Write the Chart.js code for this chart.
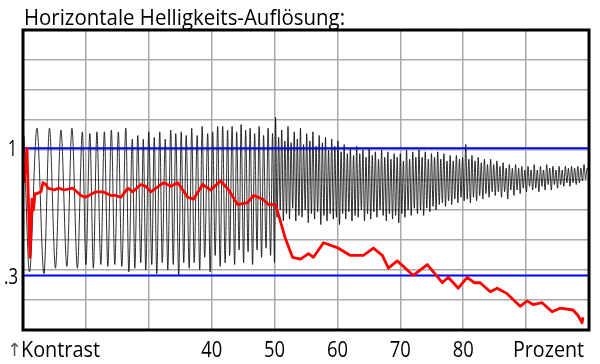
<!DOCTYPE html>
<html>
<head>
<meta charset="utf-8">
<script src="https://cdn.jsdelivr.net/npm/chart.js@4.4.1/dist/chart.umd.min.js"></script>
<style>
  html, body { margin: 0; padding: 0; background: #fff; }
</style>
</head>
<body>
<canvas id="chart" width="600" height="364"></canvas>
<script>
// Texte
const title = 'Horizontale Helligkeits-Auflösung:';
const xLabels = [40, 50, 60, 70, 80];
const xLeftLabel = 'Kontrast';
const xRightLabel = 'Prozent';
const yLabels = [1, 0.3];
const refLevels = [1, 0.3];

// Messsignal (schwarz): [Prozent, Kontrast], Spitzen und Täler
const wavePoints = [
  [10.16,1.07],[11.03,0.32],[12.22,1.11],[13.33,0.31],[14.21,1.11],[15.16,0.34],[16.03,1.10],[16.98,0.35],
  [17.78,1.11],[18.65,0.34],[19.44,1.09],[20.00,0.36],[20.63,1.08],[21.19,0.34],[21.75,1.09],[22.38,0.36],
  [22.94,1.09],[23.49,0.35],[24.05,1.10],[24.60,0.36],[25.16,1.09],[25.71,0.35],
  [26.35,1.11],[26.83,0.32],[27.38,1.05],[27.78,0.34],[28.25,1.07],[28.73,0.37],[29.13,1.05],[29.52,0.33],
  [30.00,1.09],[30.48,0.36],[30.87,1.06],[31.27,0.31],[31.75,1.09],[32.14,0.37],[32.62,1.05],[33.02,0.33],
  [33.49,1.10],[33.89,0.36],[34.29,1.08],[34.76,0.30],[35.16,1.09],[35.56,0.37],[35.95,1.07],[36.43,0.34],
  [36.83,1.11],[37.22,0.37],[37.70,1.07],[38.10,0.33],[38.49,1.12],[38.89,0.40],[39.37,1.08],[39.76,0.32],
  [40.16,1.09],[40.56,0.41],[40.95,1.12],[41.35,0.35],
  [41.75,1.12],[42.14,0.37],[42.54,1.10],[42.86,0.41],[43.25,1.12],[43.65,0.36],[43.97,1.09],[44.37,0.44],
  [44.68,1.13],[45.08,0.37],[45.40,1.10],[45.79,0.43],[46.11,1.11],[46.51,0.36],[46.83,1.08],[47.22,0.44],
  [47.54,1.12],[47.94,0.40],[48.25,1.07],[48.65,0.45],[48.97,1.11],[49.37,0.41],[49.68,1.08],[50.00,0.37],
  [50.16,1.17],[50.40,0.62],[50.65,1.06],[50.90,0.66],[51.14,1.10],[51.40,0.60],[51.64,1.04],[51.90,0.64],
  [52.14,1.12],[52.38,0.61],[52.63,1.03],[52.88,0.67],[53.13,1.09],[53.38,0.60],[53.62,1.05],[53.87,0.63],
  [54.12,1.11],[54.37,0.62],[54.62,1.02],[54.87,0.66],[55.11,1.08],[55.36,0.59],[55.61,1.04],[55.86,0.64],
  [56.10,1.09],[56.36,0.61],[56.60,1.01],[56.85,0.65],[57.10,1.07],[57.35,0.58],[57.60,1.03],[57.85,0.63],
  [58.10,1.06],[58.34,0.60],[58.59,0.99],[58.84,0.64],[59.09,1.05],[59.34,0.61],[59.58,1.01],[59.84,0.62],
  [60.08,1.04],[60.33,0.58],[60.58,0.98],[60.83,0.64],[61.07,1.02],[61.32,0.61],[61.57,0.97],[61.82,0.65],
  [62.06,1.00],[62.31,0.60],[62.56,0.96],[62.81,0.63],[63.06,1.01],[63.30,0.62],[63.55,0.97],[63.80,0.66],
  [64.05,0.99],[64.30,0.60],[64.54,0.95],[64.79,0.64],[65.04,1.00],[65.29,0.61],[65.54,0.96],[65.78,0.65],
  [66.03,0.98],[66.28,0.62],[66.53,0.94],[66.78,0.66],[67.02,0.99],[67.27,0.63],[67.52,0.95],[67.77,0.60],
  [68.02,0.98],[68.26,0.64],[68.51,0.94],[68.76,0.61],[69.01,0.97],[69.25,0.63],[69.50,0.95],[69.75,0.59],
  [70.00,0.97],[70.24,0.64],[70.49,0.93],[70.74,0.62],[70.99,0.99],[71.23,0.66],[71.48,0.94],[71.73,0.63],
  [71.98,0.98],[72.22,0.67],[72.47,0.95],[72.72,0.64],[72.97,0.99],[73.21,0.66],[73.46,0.95],[73.71,0.63],
  [73.96,0.98],[74.21,0.67],[74.45,0.94],[74.70,0.65],[74.95,0.97],[75.20,0.68],[75.44,0.95],[75.69,0.66],
  [75.94,0.98],[76.19,0.69],[76.43,0.94],[76.68,0.70],[76.93,0.97],[77.18,0.68],[77.42,0.93],[77.67,0.71],
  [77.92,0.96],[78.17,0.69],[78.41,0.93],[78.66,0.72],[78.91,0.96],[79.16,0.70],[79.40,0.94],[79.65,0.73],
  [79.90,0.95],[80.15,0.71],[80.40,1.02],[80.64,0.72],[80.89,0.94],[81.14,0.70],[81.39,0.96],[81.63,0.73],
  [81.88,0.93],[82.13,0.71],[82.38,0.95],[82.62,0.74],[82.87,0.92],[83.12,0.72],[83.37,0.94],[83.61,0.75],
  [83.86,0.91],[84.11,0.73],[84.36,0.94],[84.60,0.76],[84.85,0.91],[85.10,0.74],[85.35,0.93],[85.59,0.76],
  [85.84,0.90],[86.09,0.73],[86.34,0.92],[86.58,0.76],[86.83,0.89],[87.08,0.72],[87.33,0.91],[87.57,0.77],
  [87.82,0.89],[88.07,0.74],[88.32,0.91],[88.56,0.77],[88.81,0.89],[89.06,0.75],[89.31,0.90],[89.55,0.78],
  [89.80,0.88],[90.05,0.76],[90.30,0.90],[90.54,0.79],[90.79,0.88],[91.04,0.77],[91.29,0.91],[91.53,0.78],
  [91.78,0.88],[92.03,0.76],[92.28,0.90],[92.52,0.79],[92.77,0.88],[93.02,0.77],[93.27,0.91],[93.51,0.80],
  [93.76,0.89],[94.01,0.77],[94.26,0.90],[94.50,0.80],[94.75,0.88],[95.00,0.78],[95.25,0.90],[95.49,0.80],
  [95.74,0.88],[95.99,0.79],[96.24,0.90],[96.48,0.81],[96.73,0.89],[96.98,0.79],[97.23,0.90],[97.47,0.81],
  [97.72,0.89],[97.97,0.80],[98.22,0.90],[98.46,0.81],[98.71,0.89],[98.96,0.82],[99.21,0.91],[99.45,0.83],
  [99.70,0.89],[99.90,0.88]
];

// Kontrastverlauf (rot): [Prozent, Kontrast]
const redPoints = [
  [10.16,0.81],[10.63,1.00],[11.11,0.40],[11.43,0.72],[11.67,0.66],[11.90,0.75],[12.22,0.75],[12.86,0.76],
  [13.17,0.81],[13.65,0.80],[13.97,0.78],[14.92,0.77],[15.71,0.78],[16.51,0.77],[17.94,0.78],[19.21,0.74],
  [19.84,0.73],[20.48,0.74],[21.59,0.76],[22.70,0.76],[23.97,0.74],[24.76,0.74],[25.56,0.73],[26.67,0.78],
  [27.46,0.76],[28.73,0.80],[29.52,0.79],[30.32,0.76],[32.38,0.81],[33.49,0.79],[34.60,0.81],[36.19,0.73],
  [37.14,0.72],[38.57,0.80],[39.84,0.77],[41.43,0.82],[42.70,0.77],[44.13,0.69],[45.71,0.70],[46.67,0.74],
  [48.10,0.72],[49.05,0.69],[50.16,0.69],[51.75,0.50],[52.86,0.40],[54.13,0.39],[55.40,0.42],[56.19,0.40],
  [57.78,0.48],[60.16,0.45],[62.06,0.41],[64.13,0.41],[65.71,0.45],[67.14,0.41],[68.10,0.34],[69.52,0.38],
  [72.06,0.30],[74.29,0.36],[76.67,0.26],[77.62,0.29],[79.21,0.23],[80.63,0.29],[81.75,0.26],[82.70,0.26],
  [84.29,0.21],[85.40,0.23],[86.98,0.20],[89.05,0.13],[90.16,0.16],[91.11,0.14],[92.54,0.15],[94.13,0.10],
  [95.40,0.12],[97.46,0.11],[98.25,0.08],[98.89,0.04],[99.05,0.07]
];

const FONT = '"Open Sans", "Noto Sans", sans-serif';

// Text auf eine Breite stauchen (Original ist eine schmale Schrift)
function fitText(ctx, text, x, y, width, size, align) {
    ctx.font = size + 'px ' + FONT;
    const w = ctx.measureText(text).width;
    const s = Math.min(1, width / w);
    let left = x;
    if (align === 'center') left = x - w * s / 2;
    if (align === 'right') left = x - w * s;
    ctx.save();
    ctx.translate(left, y);
    ctx.scale(s, 1);
    ctx.textAlign = 'left';
    ctx.fillText(text, 0, 0);
    ctx.restore();
}

const framePlugin = {
    id: 'frame',
    afterDraw(chart) {
        const { ctx, chartArea: a, scales: { x, y } } = chart;
        ctx.save();
        ctx.strokeStyle = '#000';
        ctx.lineWidth = 3;
        ctx.strokeRect(a.left, a.top, a.right - a.left, a.bottom - a.top);

        ctx.fillStyle = '#000';
        ctx.textBaseline = 'alphabetic';
        fitText(ctx, title, a.left + 1, a.top - 5, 321, 21, 'left');

        // y-Beschriftung
        ctx.textBaseline = 'middle';
        fitText(ctx, String(yLabels[0]), a.left - 6, y.getPixelForValue(yLabels[0]) + 2, 9, 22, 'right');
        fitText(ctx, '.' + String(yLabels[1]).split('.')[1], a.left - 5, y.getPixelForValue(yLabels[1]) + 3, 14, 21, 'right');

        // x-Beschriftung
        ctx.textBaseline = 'alphabetic';
        const base = a.bottom + 27;
        xLabels.forEach(v => {
            fitText(ctx, String(v), x.getPixelForValue(v), base, 21, 22, 'center');
        });
        fitText(ctx, xRightLabel, a.right - 5, base, 71, 22, 'right');
        fitText(ctx, xLeftLabel, a.left - 2, base, 79, 22, 'left');
        ctx.fillStyle = '#555';
        ctx.font = '18px "DejaVu Sans", sans-serif';
        ctx.textAlign = 'left';
        ctx.fillText('\u2191', a.left - 16, base - 1);
        ctx.restore();
    }
};

const toXY = pts => pts.map(([x, y]) => ({ x, y }));

const datasets = [
    {
        label: 'Kontrast',
        data: toXY(redPoints),
        borderColor: '#ff0000',
        borderWidth: 2.8,
        borderJoinStyle: 'round'
    },
    ...refLevels.map(v => ({
        label: 'Referenz ' + v,
        data: [{ x: 10, y: v }, { x: 100, y: v }],
        borderColor: '#0000ff',
        borderWidth: 2
    })),
    {
        label: 'Signal',
        data: toXY(wavePoints),
        borderColor: 'rgba(10, 10, 10, 0.85)',
        borderWidth: 1,
        cubicInterpolationMode: 'monotone'
    }
];

const gridStyle = { color: '#aaaaaa', lineWidth: 1.5, drawTicks: false };

new Chart(document.getElementById('chart').getContext('2d'), {
    type: 'line',
    data: { datasets: datasets },
    options: {
        responsive: false,
        animation: false,
        devicePixelRatio: 1,
        layout: { padding: { left: 23, top: 30, right: 11, bottom: 34 } },
        elements: { point: { radius: 0 }, line: { tension: 0 } },
        plugins: { legend: { display: false }, tooltip: { enabled: false } },
        scales: {
            x: {
                type: 'linear', min: 10, max: 100,
                ticks: { display: false, stepSize: 10 },
                grid: gridStyle,
                border: { display: false }
            },
            y: {
                min: 0, max: 1.65,
                ticks: { display: false, stepSize: 0.165 },
                grid: gridStyle,
                border: { display: false }
            }
        }
    },
    plugins: [framePlugin]
});
</script>
</body>
</html>
